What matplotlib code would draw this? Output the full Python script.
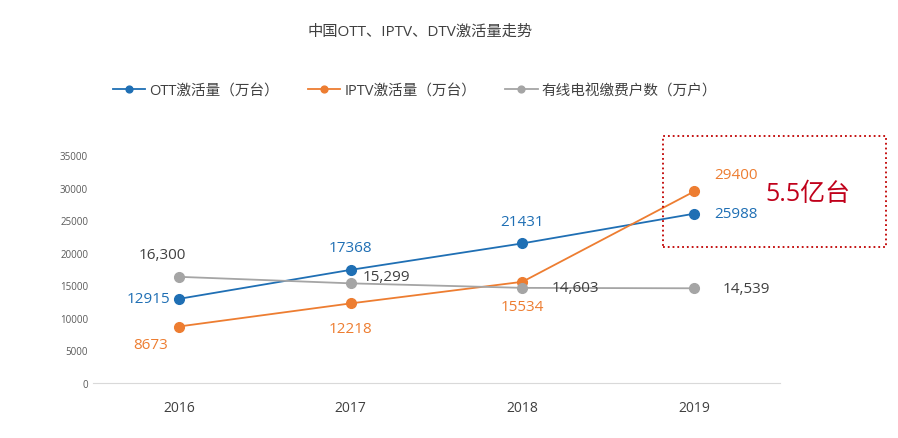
import matplotlib
matplotlib.use("Agg")
import matplotlib.pyplot as plt
from matplotlib.patches import Rectangle

plt.rcParams['font.family'] = ['Open Sans', 'Noto Sans CJK SC', 'DejaVu Sans']

years = ['2016', '2017', '2018', '2019']
ott = [12915, 17368, 21431, 25988]
iptv = [8673, 12218, 15534, 29400]
cable = [16300, 15299, 14603, 14539]
ott_lbl = ['12915', '17368', '21431', '25988']
iptv_lbl = ['8673', '12218', '15534', '29400']
cable_lbl = ['16,300', '15,299', '14,603', '14,539']

W, H = 898, 439
fig = plt.figure(figsize=(W/100, H/100), dpi=100)
ax = fig.add_axes([93/W, 1-384/H, (780-93)/W, (384-156)/H])
x = range(len(years))
c_ott, c_iptv, c_cab = '#1f6fb4', '#ed7d31', '#a5a5a5'
ax.plot(x, ott, '-o', color=c_ott, lw=1.3, ms=7, label='OTT激活量（万台）')
ax.plot(x, iptv, '-o', color=c_iptv, lw=1.3, ms=7, label='IPTV激活量（万台）')
ax.plot(x, cable, '-o', color=c_cab, lw=1.3, ms=7, label='有线电视缴费户数（万户）')
ax.set_xlim(-0.5, 3.5)
ax.set_ylim(0, 35000)
ax.set_yticks(range(0, 35001, 5000))
ax.set_xticks(list(x))
ax.set_xticklabels(years)
for s in ['top', 'right', 'left']:
    ax.spines[s].set_visible(False)
ax.spines['bottom'].set_color('#d9d9d9')
ax.tick_params(axis='y', length=0, labelsize=7, colors='#595959')
ax.tick_params(axis='x', length=0, labelsize=10, colors='#404040', pad=12)

fs = 11
off_ott = [(-22, 0), (0, 16), (0, 16), (30, 0)]
for i, (v, l) in enumerate(zip(ott, ott_lbl)):
    dx, dy = off_ott[i]
    ax.annotate(l, (i, v), xytext=(dx, dy), textcoords='offset points', ha='center', va='center', color=c_ott, fontsize=fs)
off_iptv = [(-20, -13), (0, -18), (0, -18), (30, 12)]
for i, (v, l) in enumerate(zip(iptv, iptv_lbl)):
    dx, dy = off_iptv[i]
    ax.annotate(l, (i, v), xytext=(dx, dy), textcoords='offset points', ha='center', va='center', color=c_iptv, fontsize=fs)
off_cab = [(-12, 16), (26, 5), (38, 0), (38, 0)]
for i, (v, l) in enumerate(zip(cable, cable_lbl)):
    dx, dy = off_cab[i]
    ax.annotate(l, (i, v), xytext=(dx, dy), textcoords='offset points', ha='center', va='center', color='#404040', fontsize=fs)

fig.text(420/W, 1-32/H, '中国OTT、IPTV、DTV激活量走势', ha='center', va='center', fontsize=11, color='#404040')
fig.legend(loc='center', bbox_to_anchor=(415/W, 1-92/H), ncol=3, frameon=False,
           fontsize=10.5, handlelength=2.2, columnspacing=2.0, handletextpad=0.3,
           markerscale=0.7, labelcolor='#404040')
fig.patches.append(Rectangle((663/W, 1-248/H), (886-663)/W, (248-137)/H, transform=fig.transFigure,
                             fill=False, ec='#c00000', ls=':', lw=1.3))
fig.text(808/W, 1-195/H, '5.5亿台', ha='center', va='center', fontsize=18, color='#c0001a')
fig.savefig('out.png', dpi=100)
